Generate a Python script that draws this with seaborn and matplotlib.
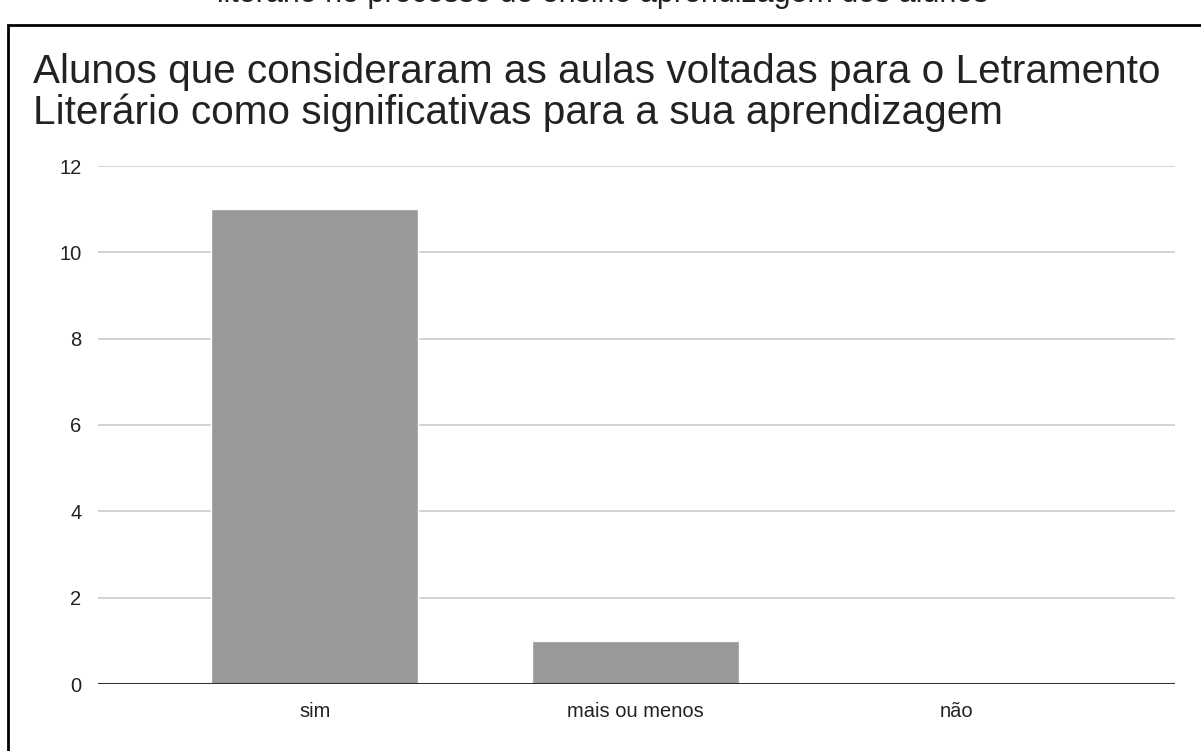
import pandas as pd
import matplotlib.pyplot as plt
import seaborn as sns
from matplotlib.patches import Rectangle

categorias = ['sim', 'mais ou menos', 'não']
alunos = [11, 1, 0]
yticks = [0, 2, 4, 6, 8, 10, 12]

titulo = ('Alunos que consideraram as aulas voltadas para o Letramento\n'
          'Literário como significativas para a sua aprendizagem')
titulo_cortado = 'literário no processo de ensino aprendizagem dos alunos'

dados = pd.DataFrame({'Resposta': categorias, 'Alunos': alunos})

sns.set_style('white')
plt.rcParams['font.family'] = ['Liberation Sans', 'DejaVu Sans']

fig = plt.figure(figsize=(12.01, 7.51), dpi=100)
ax = fig.add_axes([98 / 1201, 1 - 684 / 751, (1175 - 98) / 1201, (684 - 166) / 751])

sns.barplot(data=dados, x='Resposta', y='Alunos', color='#999999', width=0.645,
            saturation=1, ax=ax, zorder=3)

ax.set_xlim(-0.675, 2.68)
ax.set_ylim(0, 12)
ax.set_yticks(yticks)
ax.grid(axis='y', color='#cccccc', linewidth=1.2, zorder=0)
ax.axhline(0, color='#333333', linewidth=1.5, zorder=4)
for s in ax.spines.values():
    s.set_visible(False)
ax.tick_params(axis='both', length=0, labelsize=14.5, labelcolor='#222222')
ax.tick_params(axis='x', pad=13)
ax.tick_params(axis='y', pad=12)
ax.set_xlabel('')
ax.set_ylabel('')

# Título
fig.text(33 / 1201, 1 - 53 / 751, titulo, fontsize=29.2, color='#222222',
         ha='left', va='top', linespacing=1.08)

# texto cortado no topo da imagem (também cortado na referência)
fig.text(603 / 1201, 1 + 6 / 751, titulo_cortado, fontsize=22, color='#222222',
         ha='center', va='center')

# moldura
fig.patches.append(Rectangle((8 / 1201, -0.05), 1.0, 1 - 25 / 751 + 0.05,
                             transform=fig.transFigure, fill=False,
                             edgecolor='black', linewidth=2))

fig.savefig('out.png', dpi=100)
